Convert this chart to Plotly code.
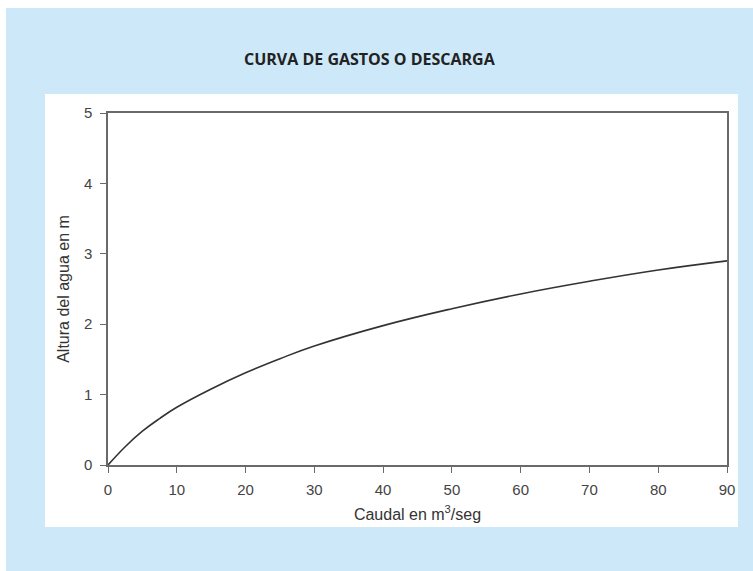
import plotly.graph_objects as go

caudal = [0, 2.5, 5, 7.5, 10, 15, 20, 25, 30, 40, 50, 60, 70, 80, 90]
altura = [0, 0.26, 0.48, 0.66, 0.82, 1.08, 1.31, 1.51, 1.69, 1.98, 2.22, 2.43, 2.61, 2.77, 2.90]

x_ticks = [0, 10, 20, 30, 40, 50, 60, 70, 80, 90]
y_ticks = [0, 1, 2, 3, 4, 5]

title_text = "CURVA DE GASTOS O DESCARGA"
x_title = "Caudal en m<sup>3</sup>/seg"
y_title = "Altura del agua en m"

L, R, T, B = 108, 26, 113, 106
W, H = 753, 571
pw, ph = W - L - R, H - T - B

def px(x):
    return (x - L) / pw

def py(y):
    return (H - B - y) / ph

fig = go.Figure()
fig.add_trace(go.Scatter(
    x=caudal, y=altura, mode="lines",
    line=dict(color="#333333", width=1.6, shape="spline", smoothing=1.2),
    hoverinfo="skip", showlegend=False,
))

shapes = [
    dict(type="rect", xref="paper", yref="paper", layer="below",
         x0=px(6), x1=px(760), y0=py(580), y1=py(8),
         fillcolor="#cde9f9", line=dict(width=0)),
    dict(type="rect", xref="paper", yref="paper", layer="below",
         x0=px(45), x1=px(738), y0=py(527), y1=py(94),
         fillcolor="#ffffff", line=dict(width=0)),
]

font_fam = "Liberation Sans, Arial, sans-serif"
axis_common = dict(
    showgrid=False, zeroline=False, showline=True, mirror=True,
    linecolor="#6a6a6a", linewidth=1.5,
    ticks="outside", ticklen=6, tickwidth=1.2, tickcolor="#6a6a6a",
    tickfont=dict(family=font_fam, size=15, color="#444444"),
)

fig.update_layout(
    width=W, height=H,
    margin=dict(l=L, r=R, t=T, b=B),
    paper_bgcolor="#ffffff",
    plot_bgcolor="#ffffff",
    shapes=shapes,
    showlegend=False,
    xaxis=dict(range=[0, 90], tickvals=x_ticks, ticklabelstandoff=4, **axis_common,
               title=dict(text=x_title, standoff=12,
                          font=dict(family=font_fam, size=16, color="#333333"))),
    yaxis=dict(range=[0, 5], tickvals=y_ticks, ticklabelstandoff=5, **axis_common,
               title=dict(text=y_title, standoff=10,
                          font=dict(family=font_fam, size=16, color="#333333"))),
    annotations=[dict(
        text="<b>" + title_text + "</b>", xref="paper", yref="paper",
        x=px(370), y=py(59), xanchor="center", yanchor="middle", showarrow=False,
        font=dict(family="Open Sans, sans-serif", size=16, color="#222222"),
    )],
)

fig.write_html("out.html", config={"displayModeBar": False},
               post_script="document.body.style.margin='0';document.body.style.padding='0';")
